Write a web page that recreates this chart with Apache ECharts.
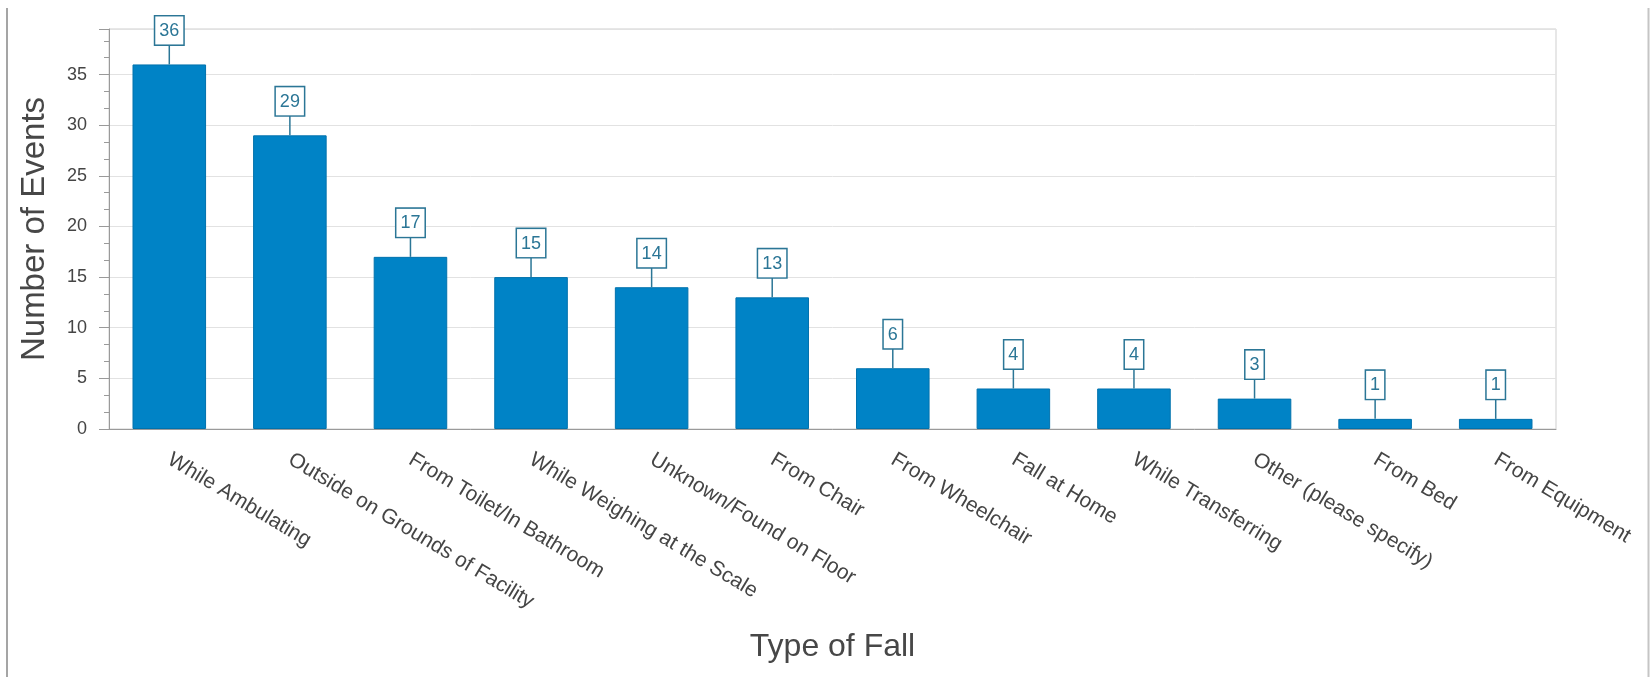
<!DOCTYPE html>
<html>
<head>
<meta charset="utf-8">
<script src="https://cdn.jsdelivr.net/npm/echarts@6/dist/echarts.min.js"></script>
<style>
  html, body { margin: 0; padding: 0; background: #fff; }
  #chart { width: 1650px; height: 677px; }
</style>
</head>
<body>
<div id="chart"></div>
<script>
const fallTypes = [
  'While Ambulating', 'Outside on Grounds of Facility', 'From Toilet/In Bathroom',
  'While Weighing at the Scale', 'Unknown/Found on Floor', 'From Chair',
  'From Wheelchair', 'Fall at Home', 'While Transferring',
  'Other (please specify)', 'From Bed', 'From Equipment'
]
const eventCounts = [36, 29, 17, 15, 14, 13, 6, 4, 4, 3, 1, 1]

const font = '"Liberation Sans", Arial, sans-serif'
const axisGray = '#9a9a9a'
const labelBlue = '#2b7696'

// 5 small ticks per category, centred on the slots
const minorSlots = fallTypes.length * 5
const minorCats = Array.from({ length: minorSlots }, (_, i) => String(i))

const chart = echarts.init(document.getElementById('chart'))

const option = {
  animation: false,
  grid: {
    left: 109,
    right: 94,
    top: 29,
    bottom: 248,
    show: true,
    borderColor: '#cfcfcf',
    borderWidth: 1
  },
  graphic: [
    { type: 'line', shape: { x1: 7, y1: 8, x2: 7, y2: 677 }, style: { stroke: '#a5a5a5', lineWidth: 2 } },
    { type: 'line', shape: { x1: 1648.5, y1: 8, x2: 1648.5, y2: 677 }, style: { stroke: '#c5c5c5', lineWidth: 2 } }
  ],
  xAxis: [
    {
      type: 'category',
      data: fallTypes,
      name: 'Type of Fall',
      nameLocation: 'middle',
      nameGap: 202,
      nameTextStyle: { fontFamily: font, fontSize: 32, color: '#474747' },
      axisLine: { lineStyle: { color: axisGray } },
      axisTick: { alignWithLabel: true, length: 8, lineStyle: { color: axisGray } },
      axisLabel: {
        rotate: -31,
        margin: 29,
        interval: 0,
        fontFamily: font,
        fontSize: 21,
        color: '#454545'
      }
    },
    {
      type: 'category',
      data: minorCats,
      position: 'bottom',
      axisLine: { show: false },
      axisTick: { alignWithLabel: true, interval: 0, length: 4, lineStyle: { color: axisGray } },
      axisLabel: { show: false },
      splitLine: { show: false }
    }
  ],
  yAxis: {
    type: 'value',
    min: 0,
    max: 39.5,
    interval: 5,
    name: 'Number of Events',
    nameLocation: 'middle',
    nameGap: 58,
    nameTextStyle: { fontFamily: font, fontSize: 33, color: '#474747' },
    axisLine: { show: true, lineStyle: { color: axisGray } },
    axisTick: { show: true, length: 10, lineStyle: { color: axisGray } },
    minorTick: { show: true, splitNumber: 3, length: 5, lineStyle: { color: axisGray } },
    axisLabel: {
      margin: 22,
      showMaxLabel: false,
      fontFamily: font,
      fontSize: 18,
      color: '#454545',
      formatter: v => (v % 5 === 0 ? v : '')
    },
    splitLine: { lineStyle: { color: '#e2e2e2' } }
  },
  series: [
    {
      type: 'bar',
      data: eventCounts,
      barCategoryGap: '39%',
      itemStyle: { color: '#0083c6', borderColor: '#0072ad', borderWidth: 1 }
    },
    {
      type: 'custom',
      z: 5,
      data: eventCounts.map((v, i) => [i, v]),
      renderItem (params, api) {
        const pt = api.coord([api.value(0), api.value(1)])
        const stem = 20
        return {
          type: 'group',
          children: [
            {
              type: 'line',
              shape: { x1: pt[0], y1: pt[1], x2: pt[0], y2: pt[1] - stem },
              style: { stroke: labelBlue, lineWidth: 1.5 }
            },
            {
              type: 'text',
              x: pt[0],
              y: pt[1] - stem,
              style: {
                text: String(api.value(1)),
                fill: labelBlue,
                font: '18px ' + font,
                align: 'center',
                verticalAlign: 'bottom',
                lineHeight: 19,
                backgroundColor: '#fff',
                borderColor: labelBlue,
                borderWidth: 1.5,
                padding: [5, 4, 4, 4]
              }
            }
          ]
        }
      }
    }
  ]
}

chart.setOption(option)
</script>
</body>
</html>
